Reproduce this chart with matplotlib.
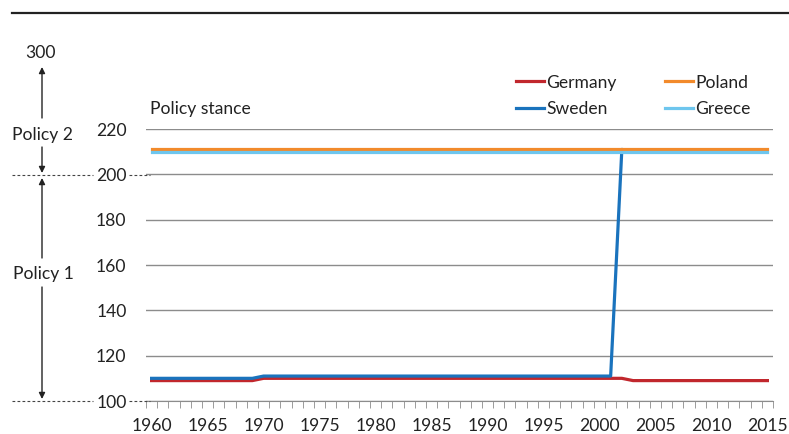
import numpy as np
import matplotlib
matplotlib.use('Agg')
import matplotlib.pyplot as plt
from matplotlib.lines import Line2D
from matplotlib.patches import FancyArrowPatch

plt.rcParams['font.family'] = ['Lato', 'DejaVu Sans']

years = list(range(1960, 2016))
germany = [109] * 10 + [110] * 33 + [109] * 13
sweden = [110] * 10 + [111] * 32 + [211] + [210] * 13
poland = [211] * 56
greece = [210] * 56

colors = {'Germany': '#c1272d', 'Sweden': '#1a73bd', 'Poland': '#f28a2b', 'Greece': '#6ec6ee'}
FS = 12.6
TXT = '#222222'

W, H = 789, 434
fig = plt.figure(figsize=(W / 100, H / 100), dpi=100)

def fx(x):
    return x / W

def fy(y):
    return 1 - y / H

ax = fig.add_axes([fx(146), fy(401), fx(773) - fx(146), fy(129) - fy(401)])
idx = np.arange(len(years))

ax.plot(idx, germany, color=colors['Germany'], lw=2.3, label='Germany', zorder=3)
ax.plot(idx, sweden, color=colors['Sweden'], lw=2.3, label='Sweden', zorder=3)
ax.plot(idx, poland, color=colors['Poland'], lw=2.3, label='Poland', zorder=3)
ax.plot(idx, greece, color=colors['Greece'], lw=2.3, label='Greece', zorder=3)

ax.set_xlim(-0.5, len(years) - 0.5)
ax.set_ylim(100, 220)
ax.set_yticks(range(100, 221, 20))
ax.yaxis.grid(True, color='#8c8c8c', lw=1)
ax.set_axisbelow(True)
for s in ['top', 'right', 'left']:
    ax.spines[s].set_visible(False)
ax.spines['bottom'].set_color('#8c8c8c')

ax.set_xticks(idx[::5])
ax.set_xticklabels([str(y) for y in years[::5]])
ax.set_xticks(np.arange(-0.5, len(years), 1), minor=True)
ax.tick_params(axis='x', which='major', length=0, pad=12, labelsize=FS, labelcolor=TXT)
ax.tick_params(axis='x', which='minor', length=5, color='#8c8c8c', direction='out')
ax.tick_params(axis='y', length=0, pad=14, labelsize=FS, labelcolor=TXT)

fig.text(fx(150), fy(109), 'Policy stance', fontsize=FS, color=TXT, va='center', ha='left')

leg = fig.legend(ncol=2, loc='center left', bbox_to_anchor=(fx(516), fy(96)),
                 frameon=False, fontsize=FS, handlelength=1.6, handletextpad=0.12,
                 columnspacing=2.8, labelspacing=0.62, borderpad=0, borderaxespad=0)
for t in leg.get_texts():
    t.set_color(TXT)

# top rule
fig.add_artist(Line2D([fx(12), fx(789)], [fy(13), fy(13)], color=TXT, lw=1.6))

# dashed guides at 200 and 100
for yy in (175, 401):
    fig.add_artist(Line2D([fx(12), fx(93)], [fy(yy), fy(yy)], color='#444444', lw=0.8, ls=(0, (2.5, 2))))
    fig.add_artist(Line2D([fx(129), fx(150)], [fy(yy), fy(yy)], color='#444444', lw=0.8, ls=(0, (2.5, 2))))

# policy arrows
arrow_kw = dict(arrowstyle='-|>', color=TXT, lw=1, mutation_scale=9, shrinkA=0, shrinkB=0)

def vspan(y_top, y_bot, y_txt, label):
    fig.add_artist(FancyArrowPatch((fx(42), fy(y_txt - 15)), (fx(42), fy(y_top)),
                                   transform=fig.transFigure, **arrow_kw))
    fig.add_artist(FancyArrowPatch((fx(42), fy(y_txt + 14)), (fx(42), fy(y_bot)),
                                   transform=fig.transFigure, **arrow_kw))
    fig.text(fx(43), fy(y_txt + 1.5), label, ha='center', va='center', fontsize=FS, color=TXT)

vspan(67, 173, 133, 'Policy 2')
vspan(178, 399, 273, 'Policy 1')
fig.text(fx(40), fy(53.5), '300', ha='center', va='center', fontsize=FS, color=TXT)

fig.savefig('out.png', dpi=100, facecolor='w')
